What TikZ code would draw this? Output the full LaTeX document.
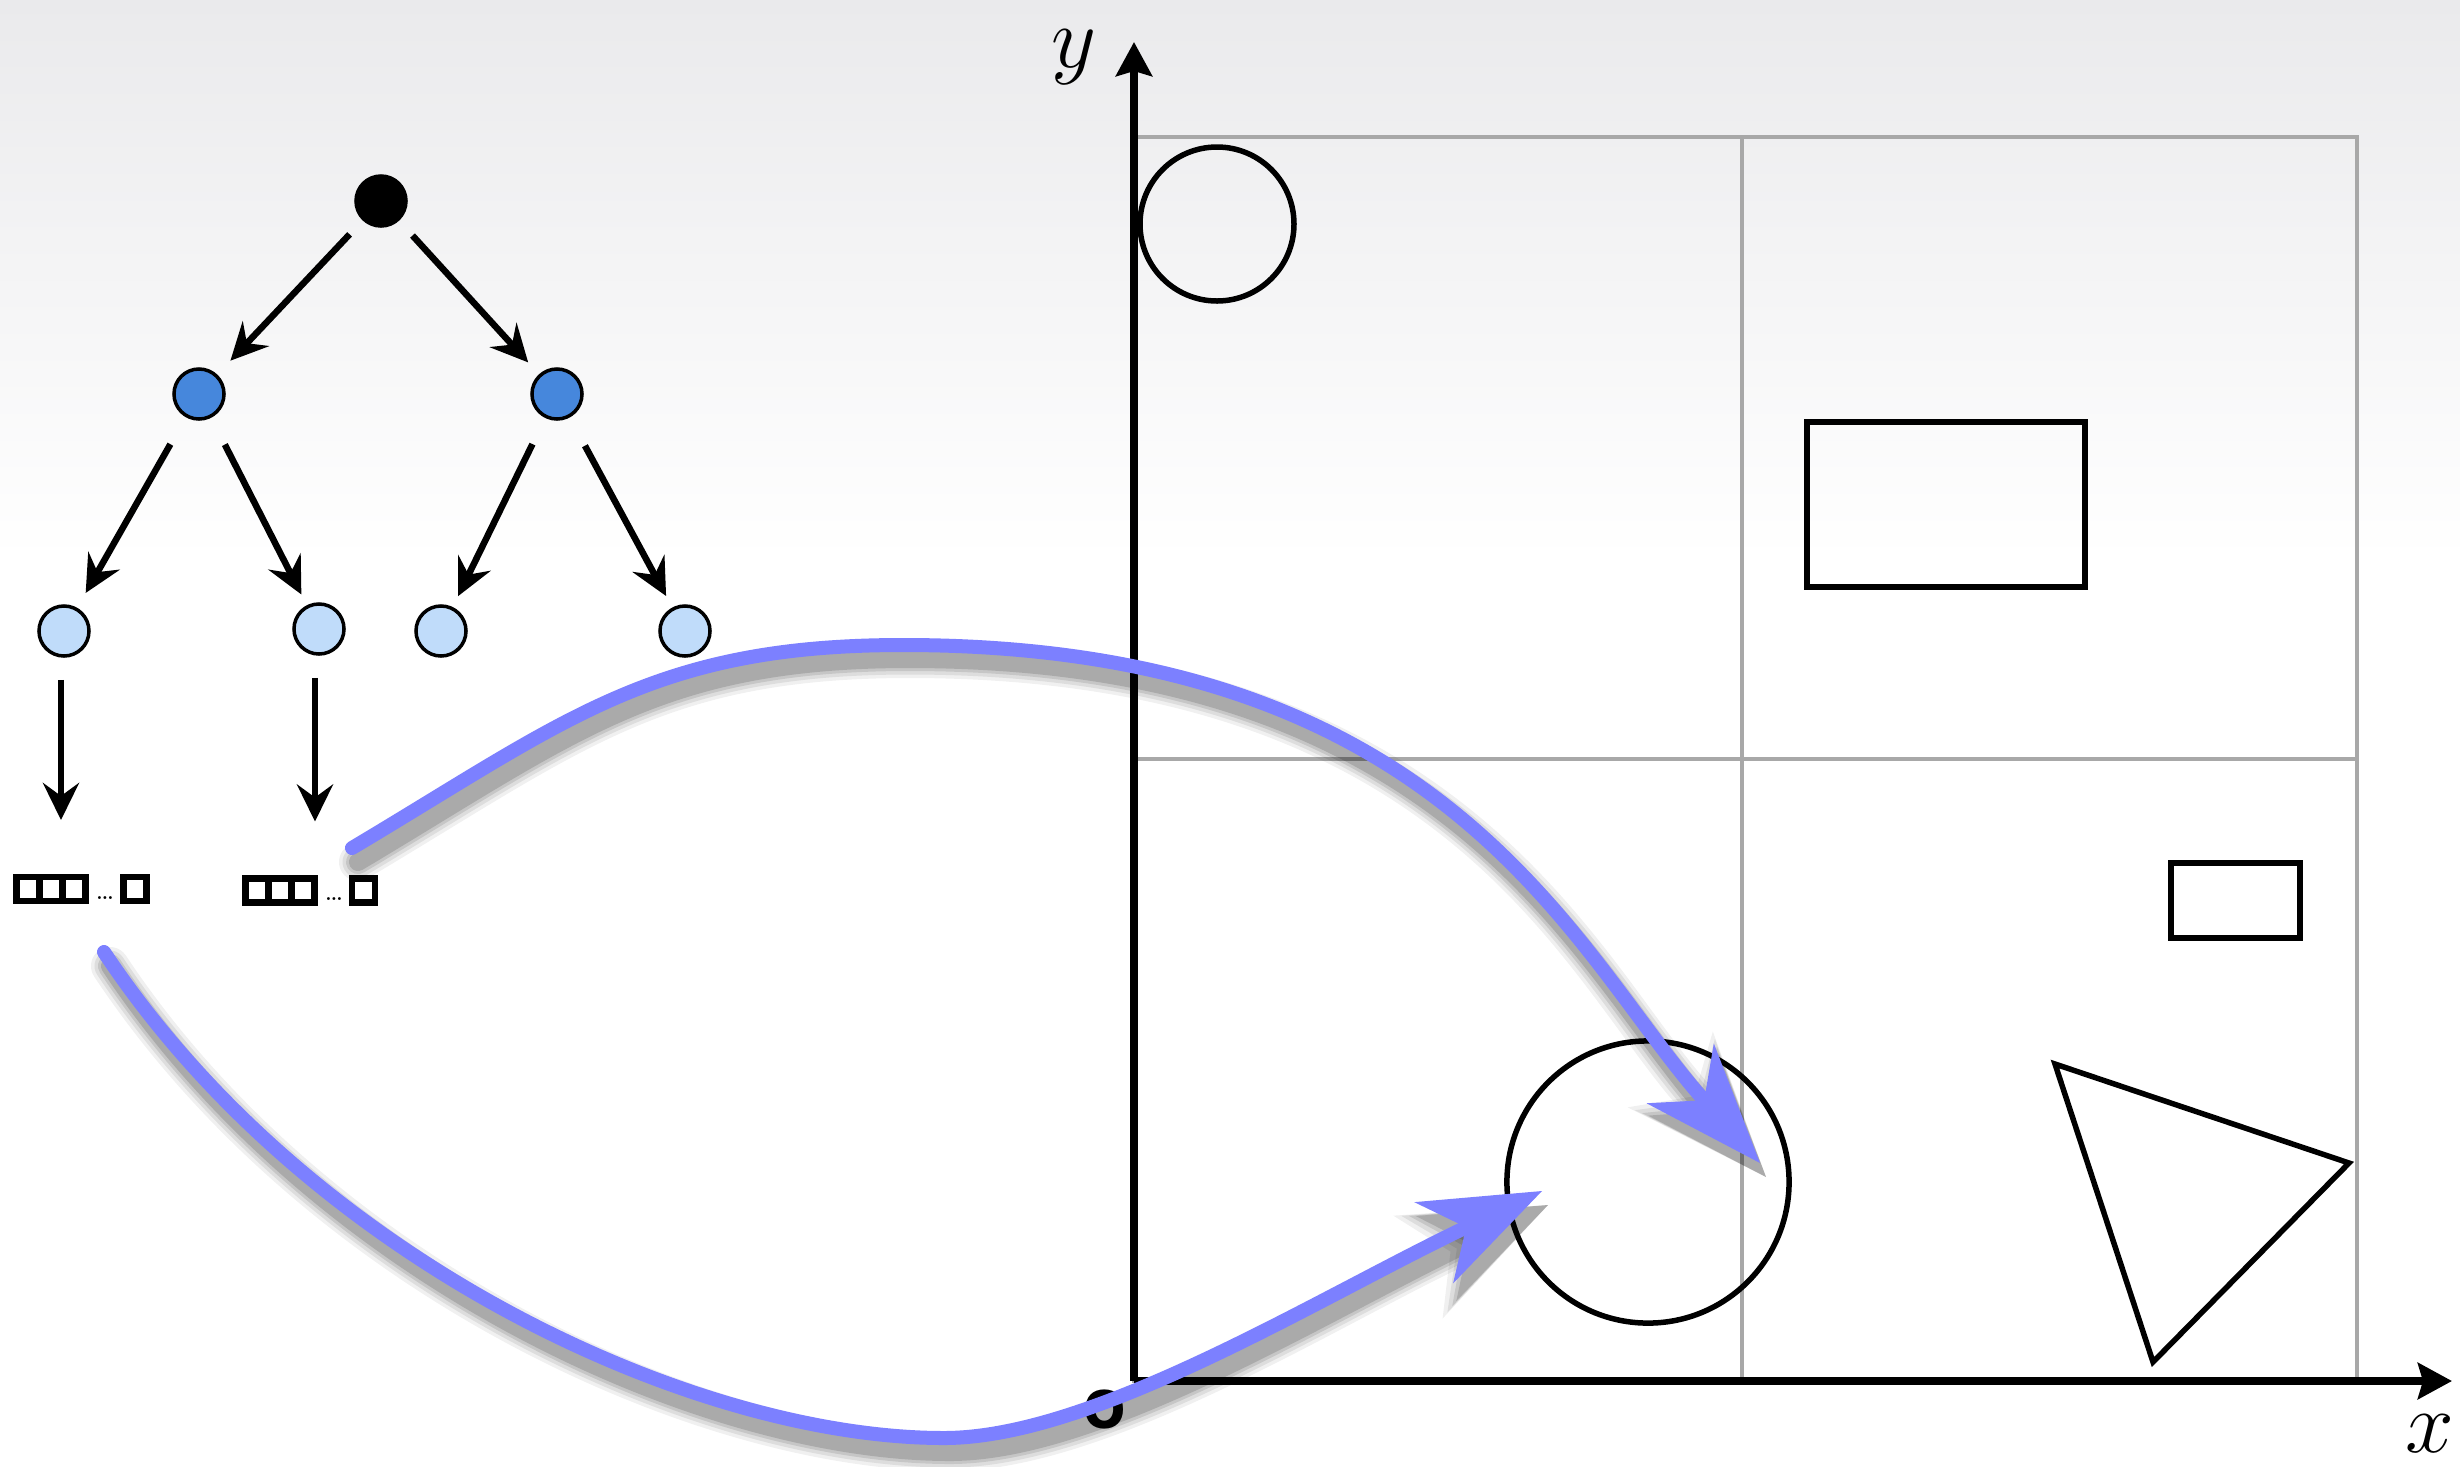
\documentclass[tikz,border=0pt]{standalone}
\usepackage{fontspec}
\newfontfamily\helv{TeX Gyre Heros}
\usetikzlibrary{arrows.meta,fit}
\definecolor{bgtop}{RGB}{234,234,236}
\definecolor{lvltwo}{RGB}{70,135,220}
\definecolor{lvlthree}{RGB}{192,220,250}
\definecolor{gridgray}{RGB}{168,168,168}
\definecolor{flowblue}{RGB}{124,128,255}
\tikzset{
  treenode/.style={circle,draw=black,line width=0.035cm,minimum size=0.5cm,inner sep=0pt},
  treearrow/.style={line width=0.065cm,-{Stealth[length=0.37cm,width=0.36cm,inset=0.13cm]}},
  cellbox/.style={rectangle,draw=black,line width=0.065cm,minimum width=0.23cm,minimum height=0.24cm,inner sep=0pt},
  gridline/.style={draw=gridgray,line width=0.04cm},
  axisline/.style={line width=0.075cm,-{Stealth[length=0.34cm,width=0.36cm,inset=0.05cm]}},
  shapeline/.style={draw=black,line width=0.055cm},
  flowline/.style={draw=flowblue,line width=0.14cm,line cap=round,-{Stealth[length=1.2cm,width=0.9cm,inset=0.36cm,line width=0pt,fill=flowblue]}},
  axislabel/.style={inner sep=0pt,font=\fontsize{26.5}{30}\selectfont},
  dotslabel/.style={inner sep=0pt,anchor=base,font=\fontsize{7.5}{8}\selectfont},
}
\begin{document}
\begin{tikzpicture}[x=0.01cm,y=-0.01cm]
\useasboundingbox (0,0) rectangle (2460,1466);
% background
\fill[white] (0,0) rectangle (2460,1466);
\shade[top color=bgtop,bottom color=white] (0,0) rectangle (2460,560);

% grid
\draw[gridline] (1134,137) rectangle (2357,1381);
\draw[gridline] (1742,137) -- (1742,1381);
\draw[gridline] (1134,759) -- (2357,759);

% axes
\coordinate (O) at (1134,1381);
\coordinate (ytip) at (1134,42);
\coordinate (xtip) at (2452,1381);
\draw[axisline] (O) -- (ytip);
\draw[axisline] (O) -- (xtip);
\node[axislabel] (ylab) at (1074,57) {$y$};
\node[axislabel] (xlab) at (2430,1434) {$x$};
\node[inner sep=0pt,font=\helv\bfseries\fontsize{20}{24}\selectfont] (olab) at (1105,1409) {o};

% shapes
\draw[shapeline] (1217,224) circle (77);
\draw[shapeline] (1807,422) rectangle (2085,587);
\draw[shapeline] (2171,863) rectangle (2300,938);
\draw[shapeline,line join=miter] (2055,1064) -- (2349,1163) -- (2153,1362) -- cycle;
\node[circle,draw=black,line width=0.055cm,minimum size=2.82cm,inner sep=0pt] (bc) at (1648,1182) {};

% tree
\node[treenode,fill=black] (root) at (381,201) {};
\node[treenode,fill=lvltwo] (a) at (199,394) {};
\node[treenode,fill=lvltwo] (b) at (557,394) {};
\node[treenode,fill=lvlthree] (aa) at (64,631) {};
\node[treenode,fill=lvlthree] (ab) at (319,629) {};
\node[treenode,fill=lvlthree] (ba) at (441,631) {};
\node[treenode,fill=lvlthree] (bb) at (685,631) {};
\draw[treearrow,shorten <=0.19cm,shorten >=0.19cm] (root) -- (a);
\draw[treearrow,shorten <=0.2cm,shorten >=0.16cm] (root) -- (b);
\draw[treearrow,shorten <=0.31cm,shorten >=0.17cm] (a) -- (aa);
\draw[treearrow,shorten <=0.3cm,shorten >=0.12cm] (a) -- (ab);
\draw[treearrow,shorten <=0.29cm,shorten >=0.12cm] (b) -- (ba);
\draw[treearrow,shorten <=0.32cm,shorten >=0.13cm] (b) -- (bb);

% leaf buckets
\node[cellbox] (l1) at (28,889) {};
\node[cellbox] (l2) at (51,889) {};
\node[cellbox] (l3) at (74,889) {};
\node[dotslabel] (ldots) at (105,899) {\ldots};
\node[cellbox] (l4) at (135,889) {};
\node[fit=(l1)(l4),inner sep=0pt] (lg) {};
\node[cellbox] (r1) at (257,890.5) {};
\node[cellbox] (r2) at (280,890.5) {};
\node[cellbox] (r3) at (303,890.5) {};
\node[dotslabel] (rdots) at (334,900) {\ldots};
\node[cellbox] (r4) at (363.5,890.5) {};
\node[fit=(r1)(r4),inner sep=0pt] (rg) {};
\draw[treearrow,shorten <=0.22cm,shorten >=0.53cm] ([xshift=-0.03cm]aa.south) -- ([xshift=-0.03cm]aa.south |- lg.north);
\draw[treearrow,shorten <=0.22cm,shorten >=0.53cm] ([xshift=-0.04cm]ab.south) -- ([xshift=-0.04cm]ab.south |- rg.north);

% blue flows
\coordinate (us) at (352,848);
\coordinate (ut) at (1760,1163);
\coordinate (ls) at (104,952);
\coordinate (lt) at (1542,1191);
\foreach \e/\op in {0.24/0.06,0.17/0.08,0.10/0.10,0.04/0.14}{
  \pgfmathsetmacro\lw{0.14+\e}
  \pgfmathsetmacro\tl{1.2+\e}
  \pgfmathsetmacro\tw{0.9+\e}
  \begin{scope}[transform canvas={shift={(6,14)}}]
    \draw[draw=black,opacity=\op,line width=\lw cm,line cap=round,
      -{Stealth[length=\tl cm,width=\tw cm,inset=0.36cm,line width=0pt,fill=black]}]
      (us) .. controls (567,720) and (653,645) .. (903,645)
           .. controls (1453,645) and (1574,954) .. (ut);
    \draw[draw=black,opacity=\op,line width=\lw cm,line cap=round,
      -{Stealth[length=\tl cm,width=\tw cm,inset=0.36cm,line width=0pt,fill=black]}]
      (ls) .. controls (310,1262) and (694,1438) .. (944,1438)
           .. controls (1094,1438) and (1317,1298.5) .. (lt);
  \end{scope}
}
\draw[flowline] (us) .. controls (567,720) and (653,645) .. (903,645)
                     .. controls (1453,645) and (1574,954) .. (ut);
\draw[flowline] (ls) .. controls (310,1262) and (694,1438) .. (944,1438)
                     .. controls (1094,1438) and (1317,1298.5) .. (lt);
\end{tikzpicture}
\end{document}
